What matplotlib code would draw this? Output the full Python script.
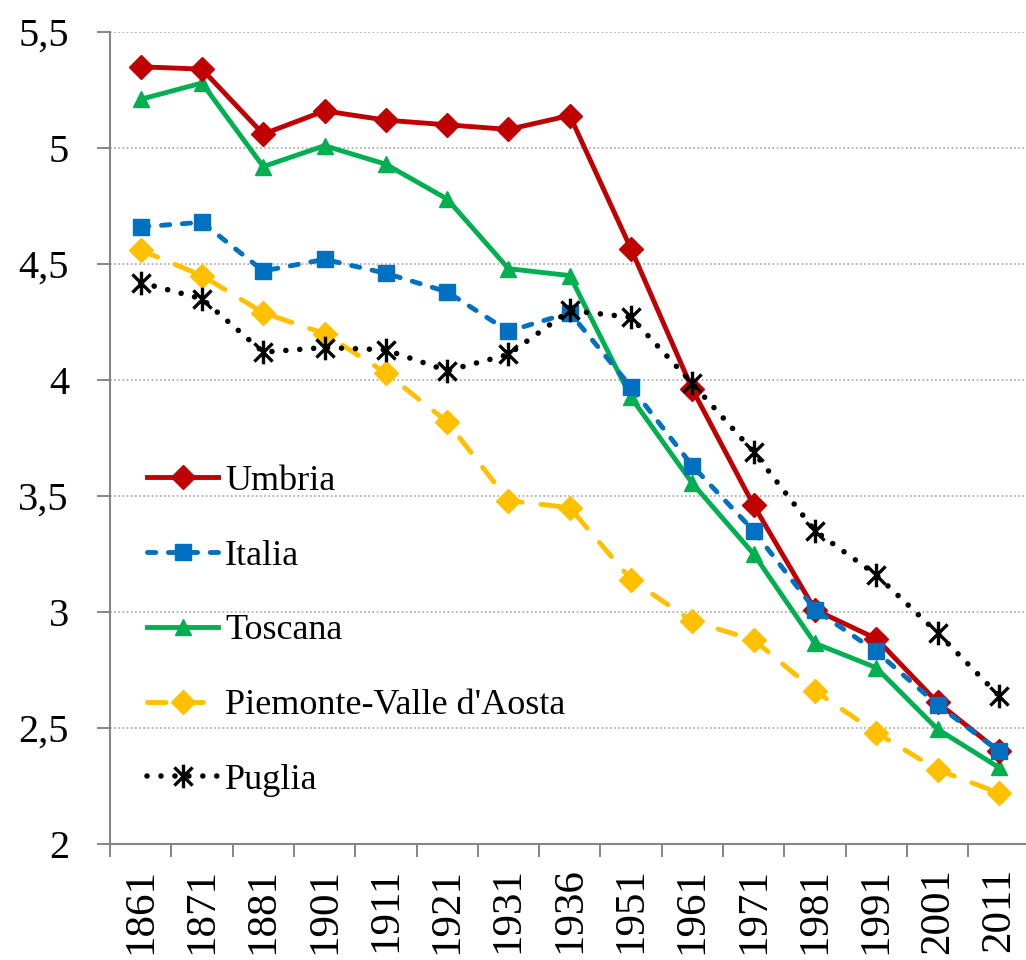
import matplotlib
matplotlib.use("Agg")
import matplotlib.pyplot as plt
import numpy as np
from matplotlib.path import Path

years = ["1861", "1871", "1881", "1901", "1911", "1921", "1931", "1936",
         "1951", "1961", "1971", "1981", "1991", "2001", "2011"]

umbria = [5.35, 5.34, 5.06, 5.16, 5.12, 5.10, 5.08, 5.14,
          4.565, 3.96, 3.46, 3.01, 2.885, 2.61, 2.40]
italia = [4.66, 4.68, 4.47, 4.52, 4.46, 4.38, 4.21, 4.29,
          3.97, 3.63, 3.35, 3.01, 2.83, 2.60, 2.40]
toscana = [5.21, 5.28, 4.92, 5.01, 4.93, 4.78, 4.48, 4.45,
           3.925, 3.555, 3.25, 2.865, 2.76, 2.495, 2.33]
piemonte = [4.56, 4.45, 4.29, 4.20, 4.03, 3.82, 3.48, 3.45,
            3.14, 2.96, 2.88, 2.66, 2.48, 2.32, 2.22]
puglia = [4.42, 4.35, 4.12, 4.14, 4.13, 4.04, 4.11, 4.30,
          4.27, 3.985, 3.69, 3.35, 3.16, 2.91, 2.64]

labels = ["Umbria", "Italia", "Toscana", "Piemonte-Valle d'Aosta", "Puglia"]

plt.rcParams['font.family'] = ['Liberation Serif', 'DejaVu Serif']

W, H = 1026, 960
fig = plt.figure(figsize=(W / 100, H / 100), dpi=100)
ax_left = 110 / W
ax_w = 919.5 / W
ax_bottom = (H - 844) / H
ax_h = 812 / H
ax = fig.add_axes([ax_left, ax_bottom, ax_w, ax_h])

x = np.arange(len(years))

star = Path([(-1, -1), (1, 1), (-1, 1), (1, -1), (0, -1.3), (0, 1.3)],
            [Path.MOVETO, Path.LINETO, Path.MOVETO, Path.LINETO,
             Path.MOVETO, Path.LINETO])

lw = 3.5
ax.plot(x, umbria, color="#C00000", lw=lw, marker="D", ms=12,
        label=labels[0], zorder=5)
ax.plot(x, italia, color="#0070C0", lw=lw, marker="s", ms=11,
        dashes=(1.7, 2.6), dash_capstyle="round", label=labels[1], zorder=6)
ax.plot(x, toscana, color="#00B050", lw=lw, marker="^", ms=12,
        label=labels[2], zorder=4)
ax.plot(x, piemonte, color="#FFC000", lw=lw, marker="D", ms=12,
        dashes=(3.8, 3.9), dash_capstyle="round", label=labels[3], zorder=3)
ax.plot(x, puglia, color="black", lw=4.0, marker=star, ms=17, mew=2.4,
        mec="black", dashes=(0.01, 2.5), dash_capstyle="round",
        label=labels[4], zorder=7)

ax.set_xlim(-0.5, 14.5)
ax.set_ylim(2, 5.5)
yt = [2, 2.5, 3, 3.5, 4, 4.5, 5, 5.5]
ax.set_yticks(yt)
ax.set_yticklabels([("%g" % v).replace(".", ",") for v in yt], fontsize=29)
ax.set_xticks(x)
ax.set_xticklabels(years, rotation=90, fontsize=31)
ax.set_xticks(np.arange(-0.5, 15, 1), minor=True)
ax.tick_params(axis="x", which="major", length=0, pad=17)
ax.tick_params(axis="x", which="minor", length=9.5, width=1.4, color="#868686")
ax.tick_params(axis="y", which="major", length=9.5, width=1.4, color="#868686", pad=20)

ax.grid(axis="y", linestyle=(0, (1, 1.5)), color="#A6A6A6", lw=1.2)
ax.set_axisbelow(True)
for s in ["top", "right"]:
    ax.spines[s].set_visible(False)
for s in ["left", "bottom"]:
    ax.spines[s].set_color("#868686")
    ax.spines[s].set_linewidth(1.5)

leg = fig.legend(loc="upper left", bbox_to_anchor=(133 / W, 1 - 450 / H),
                 frameon=False, fontsize=26, handlelength=1.95,
                 handletextpad=0.2, labelspacing=1.15, borderaxespad=0)

fig.savefig("out.png", dpi=100)
